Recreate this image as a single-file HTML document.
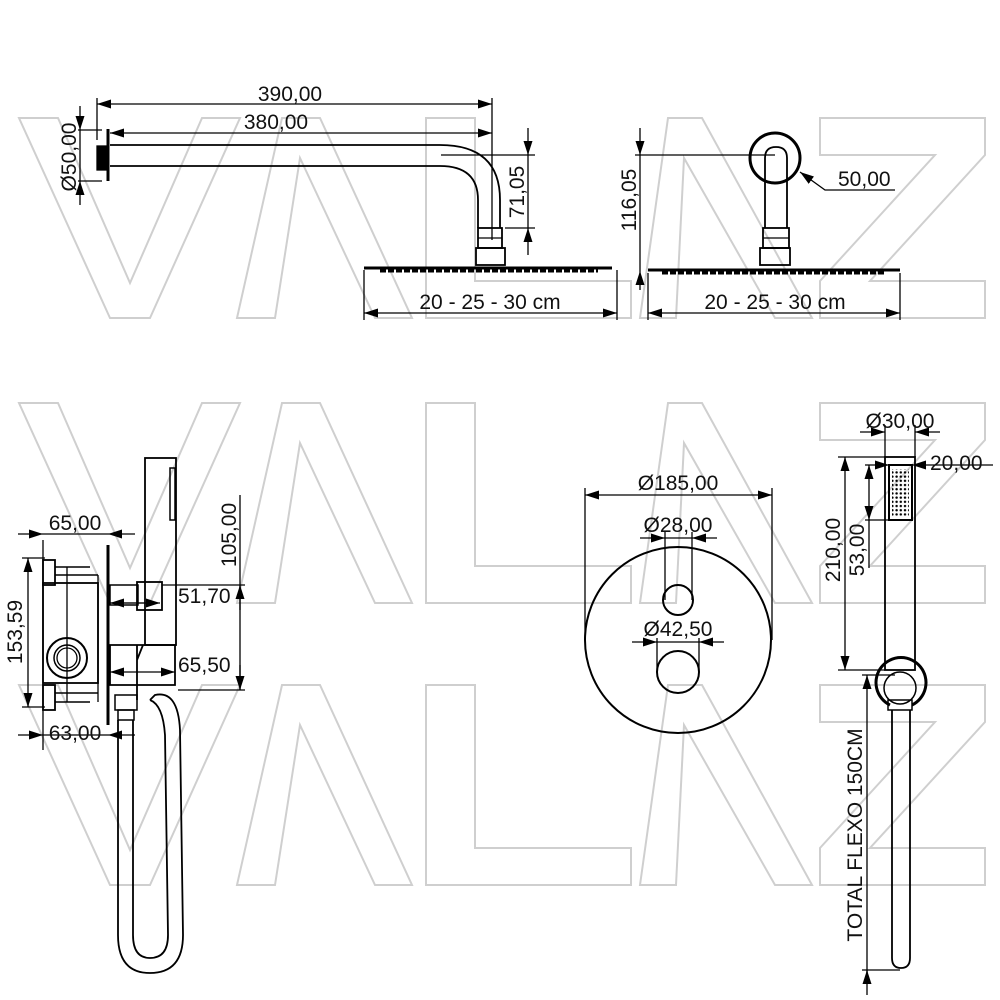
<!DOCTYPE html>
<html><head><meta charset="utf-8"><style>
html,body{margin:0;padding:0;background:#fff;}
svg{display:block;}
text{font-family:"Liberation Sans",sans-serif;font-size:21px;fill:#111;}
</style></head><body>
<svg width="1000" height="1000" viewBox="0 0 1000 1000" xmlns="http://www.w3.org/2000/svg">
<defs>
<marker id="a" viewBox="0 0 14 9" refX="14" refY="4.5" markerWidth="14" markerHeight="9" markerUnits="userSpaceOnUse" orient="auto-start-reverse"><path d="M0,0 L14,4.5 L0,9 Z" fill="#000"/></marker>
<pattern id="dots" width="4.2" height="4.2" patternUnits="userSpaceOnUse"><circle cx="2" cy="2" r="1.2" fill="#000"/></pattern>
</defs>
<!-- watermark -->
<g fill="none" stroke="#cfcfcf" stroke-width="2">
<g transform="translate(0,118)">
<polygon points="19,0 58,0 130,165 202,0 240,0 150,200 110,200"/>
<polygon points="237,200 282,0 320,0 412,200 375,200 300,40 275,200"/>
<polygon points="426,0 475,0 475,163 631,163 631,200 426,200"/>
<polygon points="640,200 668,0 702,0 812,200 775,200 684,40 676,200"/>
<polygon points="820,0 985,0 985,37 870,163 985,163 985,200 820,200 820,163 935,37 820,37"/>
</g>
<g transform="translate(0,403)">
<polygon points="19,0 58,0 130,165 202,0 240,0 150,200 110,200"/>
<polygon points="237,200 282,0 320,0 412,200 375,200 300,40 275,200"/>
<polygon points="426,0 475,0 475,163 631,163 631,200 426,200"/>
<polygon points="640,200 668,0 702,0 812,200 775,200 684,40 676,200"/>
<polygon points="820,0 985,0 985,37 870,163 985,163 985,200 820,200 820,163 935,37 820,37"/>
</g>
<g transform="translate(0,685)">
<polygon points="19,0 58,0 130,165 202,0 240,0 150,200 110,200"/>
<polygon points="237,200 282,0 320,0 412,200 375,200 300,40 275,200"/>
<polygon points="426,0 475,0 475,163 631,163 631,200 426,200"/>
<polygon points="640,200 668,0 702,0 812,200 775,200 684,40 676,200"/>
<polygon points="820,0 985,0 985,37 870,163 985,163 985,200 820,200 820,163 935,37 820,37"/>
</g>
</g>

<g stroke="#000" fill="none" stroke-width="1.3">
<!-- ===== TOP LEFT ===== -->
<line x1="97" y1="104" x2="492" y2="104" marker-start="url(#a)" marker-end="url(#a)"/>
<line x1="97" y1="98" x2="97" y2="140"/>
<line x1="492" y1="98" x2="492" y2="240"/>
<line x1="110" y1="133" x2="492" y2="133" marker-start="url(#a)" marker-end="url(#a)"/>
<rect x="97" y="146" width="9" height="24" fill="#000"/>
<line x1="108" y1="129" x2="108" y2="181" stroke-width="3"/>
<path d="M110,145 H440 Q500,145 500,200 V228" stroke-width="1.8"/>
<path d="M110,166 H440 Q478,166 478,200 V228" stroke-width="1.8"/>
<rect x="478" y="228" width="24" height="20" stroke-width="1.8"/>
<line x1="478" y1="238" x2="502" y2="238"/>
<rect x="476" y="248" width="29" height="17" stroke-width="1.8"/>
<path d="M364,268 H612" stroke-width="3"/>
<path d="M380,271 H598" stroke-width="3" stroke-dasharray="6,2"/>
<!-- 71,05 -->
<line x1="441" y1="155" x2="535" y2="155"/>
<line x1="505" y1="228" x2="535" y2="228"/>
<line x1="528" y1="128" x2="528" y2="155" marker-end="url(#a)"/>
<line x1="528" y1="255" x2="528" y2="228" marker-end="url(#a)"/>
<line x1="528" y1="155" x2="528" y2="228"/>
<!-- Ø50 -->
<line x1="78" y1="130" x2="102" y2="130"/>
<line x1="78" y1="181" x2="102" y2="181"/>
<line x1="80" y1="106" x2="80" y2="130" marker-end="url(#a)"/>
<line x1="80" y1="205" x2="80" y2="181" marker-end="url(#a)"/>
<line x1="80" y1="130" x2="80" y2="181"/>
<!-- width -->
<line x1="364" y1="270" x2="364" y2="320"/>
<line x1="617" y1="270" x2="617" y2="320"/>
<line x1="364" y1="313" x2="617" y2="313" marker-start="url(#a)" marker-end="url(#a)"/>

<!-- ===== TOP RIGHT ===== -->
<circle cx="775" cy="158" r="25" stroke-width="3"/>
<path d="M765,228 V158 Q765,147 776,147 Q787,147 787,158 V228" stroke-width="1.8"/>
<rect x="763" y="228" width="26" height="20" stroke-width="1.8"/>
<line x1="763" y1="238" x2="789" y2="238"/>
<rect x="760" y="248" width="30" height="17" stroke-width="1.8"/>
<path d="M648,270 H900" stroke-width="3"/>
<path d="M662,273 H886" stroke-width="3" stroke-dasharray="6,2"/>
<line x1="635" y1="155" x2="775" y2="155"/>
<line x1="640" y1="128" x2="640" y2="155" marker-end="url(#a)"/>
<line x1="640" y1="290" x2="640" y2="271" marker-end="url(#a)"/>
<line x1="640" y1="155" x2="640" y2="271"/>
<polyline points="895,190 825,190 800,172" marker-end="url(#a)"/>
<line x1="648" y1="273" x2="648" y2="320"/>
<line x1="900" y1="273" x2="900" y2="320"/>
<line x1="648" y1="313" x2="900" y2="313" marker-start="url(#a)" marker-end="url(#a)"/>

<!-- ===== BOTTOM LEFT ===== -->
<rect x="43" y="583" width="55" height="100" stroke-width="1.8"/>
<path d="M55,567 H90 M55,575 H98 M55,693 H98 M55,702 H90" stroke-width="1.5"/>
<line x1="67" y1="567" x2="67" y2="702"/>
<line x1="98" y1="575" x2="98" y2="702"/>
<rect x="43" y="560" width="12" height="25" stroke-width="1.8"/>
<rect x="43" y="685" width="12" height="25" stroke-width="1.8"/>
<circle cx="67" cy="658" r="20" stroke-width="2"/>
<circle cx="67" cy="658" r="13" stroke-width="1.5"/>
<circle cx="67" cy="658" r="10"/>
<line x1="108" y1="545" x2="108" y2="725" stroke-width="3"/>
<line x1="43" y1="540" x2="43" y2="750"/>
<line x1="18" y1="534" x2="43" y2="534" marker-end="url(#a)"/>
<line x1="135" y1="534" x2="108" y2="534" marker-end="url(#a)"/>
<line x1="43" y1="534" x2="108" y2="534"/>
<line x1="18" y1="735" x2="43" y2="735" marker-end="url(#a)"/>
<line x1="135" y1="735" x2="108" y2="735" marker-end="url(#a)"/>
<line x1="43" y1="735" x2="108" y2="735"/>
<line x1="28" y1="558" x2="28" y2="707" marker-start="url(#a)" marker-end="url(#a)"/>
<line x1="22" y1="558" x2="45" y2="558"/>
<line x1="22" y1="707" x2="45" y2="707"/>
<rect x="110" y="585" width="28" height="20" stroke-width="1.5"/>
<rect x="137" y="582" width="25" height="28" stroke-width="1.8"/>
<rect x="145" y="458" width="31" height="187" stroke-width="1.8"/>
<rect x="170" y="468" width="5" height="52" stroke-width="1.5"/>
<line x1="110" y1="603" x2="160" y2="603" marker-start="url(#a)" marker-end="url(#a)"/>
<line x1="162" y1="585" x2="245" y2="585"/>
<path d="M110,645 H175 V685 H110 Z" stroke-width="1.8"/>
<path d="M137,645 V700 M143,645 L137,660" stroke-width="1.8"/>
<line x1="110" y1="672" x2="175" y2="672" marker-start="url(#a)" marker-end="url(#a)"/>
<line x1="178" y1="690" x2="245" y2="690"/>
<line x1="240" y1="495" x2="240" y2="690"/>
<line x1="240" y1="610" x2="240" y2="585" marker-end="url(#a)"/>
<line x1="240" y1="665" x2="240" y2="690" marker-end="url(#a)"/>
<rect x="115" y="695" width="22" height="15" stroke-width="1.5"/>
<rect x="118" y="710" width="16" height="10" stroke-width="1.5"/>
<path d="M118,720 V935 Q118,973 150,973 Q183,973 183,935 L180,730 Q178,690 155,695 L150,700" stroke-width="1.8"/>
<path d="M133,720 V935 Q133,958 150,958 Q168,958 168,935 L165,735 Q163,705 150,700" stroke-width="1.8"/>

<!-- ===== MIDDLE ===== -->
<circle cx="678" cy="640" r="93" stroke-width="2"/>
<circle cx="678" cy="600" r="15" stroke-width="2"/>
<circle cx="678" cy="672" r="21" stroke-width="2"/>
<line x1="585" y1="488" x2="585" y2="640"/>
<line x1="772" y1="488" x2="772" y2="640"/>
<line x1="585" y1="495" x2="772" y2="495" marker-start="url(#a)" marker-end="url(#a)"/>
<line x1="665" y1="532" x2="665" y2="600"/>
<line x1="692" y1="532" x2="692" y2="600"/>
<line x1="640" y1="538" x2="665" y2="538" marker-end="url(#a)"/>
<line x1="717" y1="538" x2="692" y2="538" marker-end="url(#a)"/>
<line x1="665" y1="538" x2="692" y2="538"/>
<line x1="657" y1="638" x2="657" y2="672"/>
<line x1="699" y1="638" x2="699" y2="672"/>
<line x1="632" y1="642" x2="657" y2="642" marker-end="url(#a)"/>
<line x1="724" y1="642" x2="699" y2="642" marker-end="url(#a)"/>
<line x1="657" y1="642" x2="699" y2="642"/>

<!-- ===== RIGHT ===== -->
<rect x="885" y="457" width="30" height="213" stroke-width="1.8"/>
<rect x="889" y="465" width="23" height="55" stroke-width="2"/>
<rect x="892" y="469" width="17" height="47" fill="url(#dots)" stroke="none"/>
<line x1="885" y1="425" x2="885" y2="457"/>
<line x1="915" y1="425" x2="915" y2="457"/>
<line x1="860" y1="432" x2="885" y2="432" marker-end="url(#a)"/>
<line x1="940" y1="432" x2="915" y2="432" marker-end="url(#a)"/>
<line x1="865" y1="465" x2="889" y2="465" marker-end="url(#a)"/>
<line x1="993" y1="465" x2="912" y2="465" marker-end="url(#a)"/>
<line x1="838" y1="457" x2="885" y2="457"/>
<line x1="838" y1="670" x2="885" y2="670"/>
<line x1="845" y1="457" x2="845" y2="670" marker-start="url(#a)" marker-end="url(#a)"/>
<line x1="865" y1="520" x2="889" y2="520"/>
<line x1="869" y1="465" x2="869" y2="520" marker-start="url(#a)" marker-end="url(#a)"/>
<line x1="869" y1="520" x2="869" y2="568"/>
<path d="M890,705 A25,25 0 1 1 912,705" stroke-width="3"/>
<circle cx="900" cy="688" r="16" stroke-width="1.5"/>
<rect x="888" y="700" width="24" height="10" stroke-width="1.5"/>
<path d="M892,710 V958 Q892,968 901,968 Q910,968 910,958 V710" stroke-width="1.8"/>
<line x1="862" y1="675" x2="895" y2="675"/>
<line x1="862" y1="970" x2="900" y2="970"/>
<line x1="867" y1="675" x2="867" y2="980" marker-start="url(#a)"/>
<line x1="867" y1="995" x2="867" y2="970" marker-end="url(#a)"/>
</g>

<text x="290" y="101" text-anchor="middle">390,00</text>
<text x="276" y="129" text-anchor="middle">380,00</text>
<text transform="translate(524,192) rotate(-90)" text-anchor="middle">71,05</text>
<text transform="translate(76,157) rotate(-90)" text-anchor="middle">Ø50,00</text>
<text x="490" y="309" text-anchor="middle">20 - 25 - 30 cm</text>
<text transform="translate(636,200) rotate(-90)" text-anchor="middle">116,05</text>
<text x="838" y="186">50,00</text>
<text x="775" y="309" text-anchor="middle">20 - 25 - 30 cm</text>
<text x="75" y="530" text-anchor="middle">65,00</text>
<text x="75" y="740" text-anchor="middle">63,00</text>
<text transform="translate(22,632) rotate(-90)" text-anchor="middle">153,59</text>
<text x="178" y="603">51,70</text>
<text x="178" y="672">65,50</text>
<text transform="translate(236,535) rotate(-90)" text-anchor="middle">105,00</text>
<text x="678" y="490" text-anchor="middle">Ø185,00</text>
<text x="678" y="532" text-anchor="middle">Ø28,00</text>
<text x="678" y="636" text-anchor="middle">Ø42,50</text>
<text x="900" y="428" text-anchor="middle">Ø30,00</text>
<text x="930" y="470">20,00</text>
<text transform="translate(840,550) rotate(-90)" text-anchor="middle">210,00</text>
<text transform="translate(864,550) rotate(-90)" text-anchor="middle">53,00</text>
<text transform="translate(862,835) rotate(-90)" text-anchor="middle">TOTAL FLEXO 150CM</text>
</svg>
</body></html>
